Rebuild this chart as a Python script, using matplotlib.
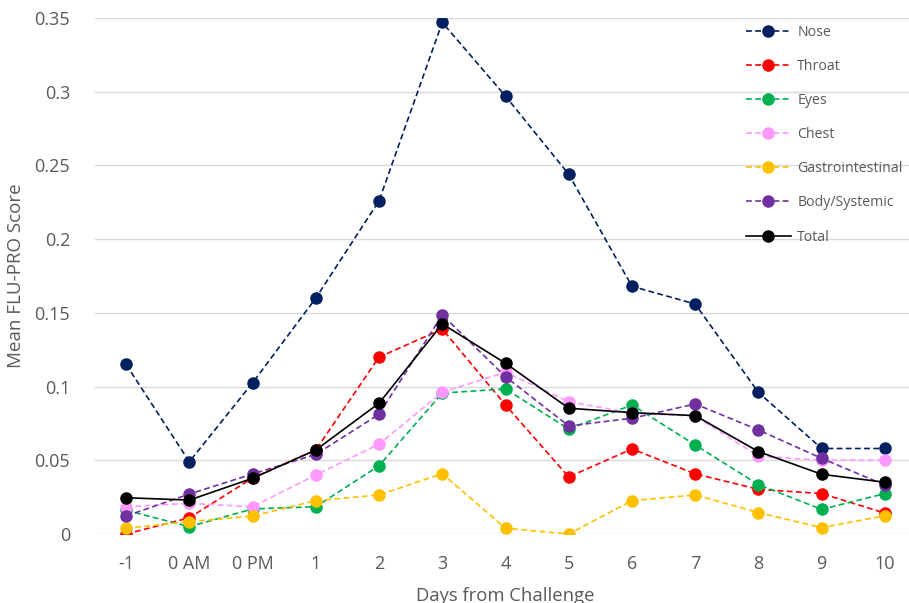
import numpy as np
import matplotlib.pyplot as plt

days = ['-1', '0 AM', '0 PM', '1', '2', '3', '4', '5', '6', '7', '8', '9', '10']

nose = [0.115, 0.049, 0.1025, 0.160, 0.226, 0.347, 0.297, 0.244, 0.168, 0.156, 0.096, 0.058, 0.058]
throat = [0.0, 0.011, 0.038, 0.057, 0.120, 0.139, 0.0875, 0.0387, 0.0577, 0.0408, 0.0303, 0.0274, 0.0142]
eyes = [0.016, 0.005, 0.017, 0.0185, 0.0463, 0.0956, 0.0984, 0.0712, 0.0875, 0.0604, 0.0335, 0.0167, 0.0274]
chest = [0.0185, 0.0208, 0.0185, 0.040, 0.061, 0.0961, 0.1097, 0.0898, 0.082, 0.080, 0.0529, 0.050, 0.050]
gastro = [0.0039, 0.0084, 0.0122, 0.0226, 0.0265, 0.0409, 0.0039, 0.0, 0.0226, 0.0265, 0.0145, 0.0043, 0.0124]
body = [0.0122, 0.0271, 0.0407, 0.054, 0.0812, 0.1486, 0.1067, 0.0733, 0.0785, 0.0882, 0.0706, 0.0513, 0.0332]
total = [0.0246, 0.023, 0.0378, 0.057, 0.0887, 0.1425, 0.1158, 0.0853, 0.0823, 0.0803, 0.0559, 0.0405, 0.0351]

series = [
    ('Nose', nose, '#002060', '--'),
    ('Throat', throat, '#FF0000', '--'),
    ('Eyes', eyes, '#00B050', '--'),
    ('Chest', chest, '#FF99FF', '--'),
    ('Gastrointestinal', gastro, '#FFC000', '--'),
    ('Body/Systemic', body, '#7030A0', '--'),
    ('Total', total, '#000000', '-'),
]

plt.rcParams['font.family'] = ['Open Sans', 'DejaVu Sans']

fig = plt.figure(figsize=(9.09, 6.03), dpi=100)
ax = fig.add_axes([94.5/909, 1-534/603, 822/909, 516/603])

x = np.arange(len(days))
for name, vals, col, ls in series:
    line, = ax.plot(x, vals, ls, color=col, lw=1.2, marker='o', ms=8, label=name)
    if ls == '--':
        line.set_dashes([3.5, 2])

ax.set_xlim(-0.5, len(days) - 0.5)
ax.set_ylim(0, 0.35)
ax.set_yticks(np.arange(0, 0.351, 0.05))
ax.set_yticklabels(['0', '0.05', '0.1', '0.15', '0.2', '0.25', '0.3', '0.35'])
ax.set_xticks(x)
ax.set_xticklabels(days)
ax.grid(axis='y', color='#D9D9D9', lw=1)
ax.set_axisbelow(True)
for s in ax.spines.values():
    s.set_visible(False)
ax.tick_params(axis='both', length=0, labelsize=13, colors='#595959')
ax.tick_params(axis='y', pad=17.5)
ax.tick_params(axis='x', pad=15)
ax.set_ylabel('Mean FLU-PRO Score', fontsize=13.5, color='#595959', labelpad=7)
ax.set_xlabel('Days from Challenge', fontsize=13.3, color='#595959', labelpad=10)

leg = ax.legend(loc='upper left', bbox_to_anchor=(0.78, 1.006), frameon=False,
                fontsize=10.2, labelcolor='#595959', handlelength=3.2,
                handletextpad=0.45, labelspacing=1.35, borderaxespad=0.3)

fig.savefig('out.png', dpi=100)
